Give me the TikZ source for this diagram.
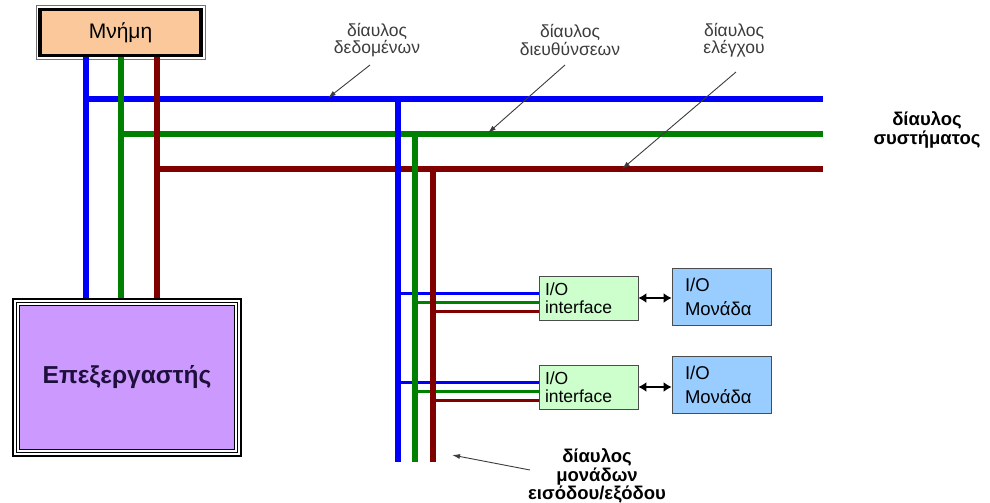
\documentclass[tikz,border=0pt]{standalone}
\usepackage{fontspec}
\setmainfont{Liberation Sans}
\usetikzlibrary{arrows.meta}
\definecolor{busblue}{RGB}{0,0,250}
\definecolor{busgreen}{RGB}{0,128,0}
\definecolor{busred}{RGB}{128,0,0}
\definecolor{peach}{RGB}{251,200,155}
\definecolor{lavender}{RGB}{204,153,255}
\definecolor{iogreen}{RGB}{204,255,204}
\definecolor{ioblue}{RGB}{153,204,255}
\definecolor{labelgray}{RGB}{60,60,60}
\begin{document}
\begin{tikzpicture}[x=1pt,y=-1pt,
  bus/.style={line width=5.5pt},
  branch/.style={line width=3pt},
  ifbox/.style={draw=black!70, line width=0.8pt, fill=iogreen, minimum height=44pt,
    inner xsep=6pt, text width=87pt, align=left, font=\fontsize{17.5}{18.5}\selectfont},
  modbox/.style={draw=black!70, line width=0.8pt, fill=ioblue, minimum height=57pt,
    inner xsep=13pt, text width=73pt, align=left, font=\fontsize{18.5}{24}\selectfont},
  thinlabel/.style={text=labelgray, align=center, font=\fontsize{17.5}{16}\selectfont},
  boldlabel/.style={text=black, align=center, font=\fontsize{18.5}{16.5}\selectfont\bfseries},
  note/.style={draw=labelgray, line width=0.9pt, -{Latex[length=8pt,width=5pt]}},
  dbl/.style={line width=2.6pt, {Latex[length=8pt,width=10pt]}-{Latex[length=8pt,width=10pt]}}
]
\useasboundingbox (0,0) rectangle (990,503);

% Memory
\node[draw=black, line width=3.5pt, fill=peach, minimum width=161pt, minimum height=46pt,
  inner sep=0pt, font=\fontsize{21}{21}\selectfont] (mem) at (120.5,32.5) {Μνήμη};
\draw[black!55, line width=0.7pt] ([shift={(-2.3,-2.3)}]mem.north west) rectangle ([shift={(2.3,2.3)}]mem.south east);

% CPU
\node[draw=black, line width=2.5pt, minimum width=228pt, minimum height=157pt, inner sep=0pt] (cpu) at (127,377.5) {};
\draw[black, line width=1.3pt, fill=white] ([shift={(4.5,4.5)}]cpu.north west) rectangle ([shift={(-4.5,-4.5)}]cpu.south east);
\draw[black, line width=1.2pt, fill=lavender] ([shift={(7.5,7.5)}]cpu.north west) rectangle ([shift={(-7.5,-7.5)}]cpu.south east);
\node[font=\fontsize{24.5}{24.5}\selectfont\bfseries, text={rgb,255:red,30;green,15;blue,60}] (cputext) at (cpu.center) {Επεξεργαστής};

% Coordinates for buses
\coordinate (mb) at (86,57);   \coordinate (cb) at (86,298);
\coordinate (mg) at (121,57);  \coordinate (cg) at (121,298);
\coordinate (mr) at (157,57);  \coordinate (cr) at (157,298);
\coordinate (hb0) at (86,99);  \coordinate (hb1) at (823,99);
\coordinate (hg0) at (121,134); \coordinate (hg1) at (823,134);
\coordinate (hr0) at (157,169); \coordinate (hr1) at (823,169);
\coordinate (vb0) at (398,99);  \coordinate (vb1) at (398,462);
\coordinate (vg0) at (415,134); \coordinate (vg1) at (415,462);
\coordinate (vr0) at (433,169); \coordinate (vr1) at (433,462);

% I/O boxes
\node[ifbox] (if1) at (588.5,298) {I/O\\interface};
\node[ifbox] (if2) at (588.5,387) {I/O\\interface};
\node[modbox] (io1) at (721.5,296.5) {I/O\\Μονάδα};
\node[modbox] (io2) at (721.5,384.5) {I/O\\Μονάδα};

% horizontal system bus
\draw[bus, busblue] (hb0) -- (hb1);
\draw[bus, busgreen] (hg0) -- (hg1);
\draw[bus, busred] (hr0) -- (hr1);

% branches to interfaces
\draw[branch, busblue] (vb0 |- 0,293) -- (if1.west |- 0,293);
\draw[branch, busgreen] (vg0 |- 0,302) -- (if1.west |- 0,302);
\draw[branch, busred] (vr0 |- 0,311) -- (if1.west |- 0,311);
\draw[branch, busblue] (vb0 |- 0,382) -- (if2.west |- 0,382);
\draw[branch, busgreen] (vg0 |- 0,391) -- (if2.west |- 0,391);
\draw[branch, busred] (vr0 |- 0,400) -- (if2.west |- 0,400);

% verticals
\draw[bus, busblue] (mb) -- (cb);
\draw[bus, busgreen] (mg) -- (cg);
\draw[bus, busred] (mr) -- (cr);
\draw[bus, busblue] (vb0) -- (vb1);
\draw[bus, busgreen] (vg0) -- (vg1);
\draw[bus, busred] (vr0) -- (vr1);

% double arrows
\draw[dbl] (if1.east) -- (io1.west |- if1.east);
\draw[dbl] (if2.east) -- (io2.west |- if2.east);

% labels
\node[thinlabel] (ldata) at (377,40) {δίαυλος\\δεδομένων};
\node[thinlabel] (laddr) at (570,40) {δίαυλος\\διευθύνσεων};
\node[thinlabel] (lctrl) at (734,40) {δίαυλος\\ελέγχου};
\node[boldlabel] (lsys) at (927,130) {δίαυλος\\συστήματος};
\node[boldlabel] (lio) at (597,476) {δίαυλος\\μονάδων\\εισόδου/εξόδου};

\coordinate (adata) at (370,65);  \coordinate (tdata) at (328,98);
\coordinate (aaddr) at (565,65);  \coordinate (taddr) at (488,133);
\coordinate (actrl) at (736,72);  \coordinate (tctrl) at (622,169);
\coordinate (aio) at (530,470);   \coordinate (tio) at (452,455);
\draw[note] (adata) -- (tdata);
\draw[note] (aaddr) -- (taddr);
\draw[note] (actrl) -- (tctrl);
\draw[note] (aio) -- (tio);
\end{tikzpicture}
\end{document}
